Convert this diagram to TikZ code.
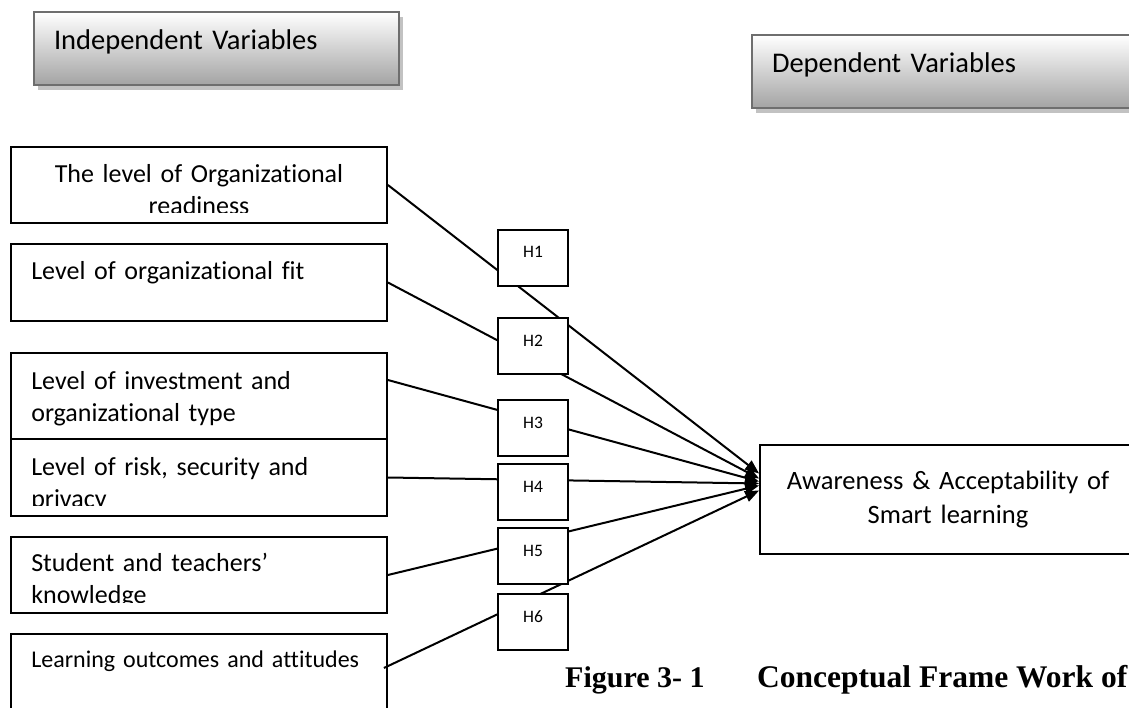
\documentclass[tikz,border=0pt]{standalone}
\usepackage{fontspec}
\setmainfont{Carlito}[Ligatures=NoCommon]
\newfontfamily\capfont{Liberation Serif}
\usetikzlibrary{arrows.meta,shadows,positioning}
\tikzset{
  varbox/.style={
    shape = rectangle,
    draw,
    fill = white,
    line width = 1.8pt,
    minimum width = 376pt,
    inner sep = 0pt
  },
  vartext/.style={
    font = \fontsize{26}{32}\selectfont,
    inner sep = 0pt,
    text width = 350pt,
    align = left
  },
  headbox/.style={
    shape = rectangle,
    draw = black!57,
    line width = 1.8pt,
    top color = white,
    bottom color = black!36,
    drop shadow = {shadow xshift=4pt, shadow yshift=-5pt, fill=black!24, opacity=1},
    minimum height = 73pt,
    inner xsep = 0pt,
    font = \fontsize{28.5}{34}\selectfont,
    text height = 18pt,
    text depth = 15pt,
    align = left
  },
  hbox/.style={
    shape = rectangle,
    draw,
    fill = white,
    line width = 1.6pt,
    minimum width = 70pt,
    minimum height = 56pt,
    font = \fontsize{17.5}{20}\selectfont,
    text height = 12pt,
    text depth = 12pt
  },
  link/.style={
    line width = 2pt,
    -{Triangle[length=14pt,width=11pt]}
  }
}

\begin{document}
\begin{tikzpicture}[x=1pt,y=-1pt]
    \useasboundingbox (0,0) rectangle (1129,708);
    % headings
    \node[headbox, minimum width=365pt, text width=325pt] (indep) at (216.5,48.5) {Independent Variables};
    \node[headbox, minimum width=393pt, text width=353pt] (dep) at (948.5,71.5) {Dependent Variables};
    % independent variables
    \node[varbox, minimum height=76pt] (v1) at (199,185) {};
    \node[varbox, minimum height=77pt] (v2) at (199,282.5) {};
    \node[varbox, minimum height=86pt] (v3) at (199,396) {};
    \node[varbox, minimum height=77pt] (v4) at (199,477.5) {};
    \node[varbox, minimum height=76pt] (v5) at (199,575) {};
    \node[varbox, minimum height=76pt] (v6) at (199,672) {};
    \begin{scope}
        \clip (v1.north west) rectangle ([yshift=11pt]v1.south east);
        \node[vartext, align=center, anchor=base] (t1) at ([yshift=-36pt]v1.north) {The level of Organizational\\readiness};
    \end{scope}
    \node[vartext, anchor=base west] (t2) at ([xshift=21pt, yshift=-36pt]v2.north west) {Level of organizational fit};
    \node[vartext, anchor=base west] (t3) at ([xshift=21pt, yshift=-37pt]v3.north west) {Level of investment and\\organizational type};
    \begin{scope}
        \clip (v4.north west) rectangle ([yshift=11pt]v4.south east);
        \node[vartext, anchor=base west] (t4) at ([xshift=21pt, yshift=-37pt]v4.north west) {Level of risk, security and\\privacy};
    \end{scope}
    \begin{scope}
        \clip (v5.north west) rectangle ([yshift=11pt]v5.south east);
        \node[vartext, anchor=base west] (t5) at ([xshift=21pt, yshift=-35pt]v5.north west) {Student and teachers’\\knowledge};
    \end{scope}
    \node[vartext, font=\fontsize{24}{30}\selectfont, anchor=base west] (t6) at ([xshift=21pt, yshift=-34pt]v6.north west) {Learning outcomes and attitudes};
    % dependent variable
    \node[varbox, minimum height=109pt, text width=350pt, align=center, font=\fontsize{26.5}{34}\selectfont] (tgt) at (948,499.5) {Awareness \& Acceptability of\\Smart learning\\[14pt]};
    % links
    \draw[link] (v1.east) -- ([yshift=26pt]tgt.west);
    \draw[link] (v2.east) -- ([yshift=21pt]tgt.west);
    \draw[link] ([yshift=16pt]v3.east) -- ([yshift=18pt]tgt.west);
    \draw[link] (v4.east) -- ([yshift=16pt]tgt.west);
    \draw[link] (v5.east) -- ([yshift=14pt]tgt.west);
    \draw[link] ([xshift=-4pt, yshift=4pt]v6.east) -- ([yshift=9pt]tgt.west);
    % hypotheses
    \node[hbox] (h1) at (533,258) {H1};
    \node[hbox] (h2) at (533,346) {H2};
    \node[hbox] (h3) at (533,428) {H3};
    \node[hbox] (h4) at (533,492) {H4};
    \node[hbox] (h5) at (533,556) {H5};
    \node[hbox] (h6) at (533,622) {H6};
    % caption
    \node[font=\capfont\bfseries\fontsize{30}{36}\selectfont, anchor=base west, inner sep=0pt] (fig) at (565,687) {Figure 3- 1};
    \node[font=\capfont\bfseries\fontsize{31.5}{36}\selectfont, anchor=base west, inner sep=0pt] (title) at (757,687) {Conceptual Frame Work of};
\end{tikzpicture}
\end{document}
